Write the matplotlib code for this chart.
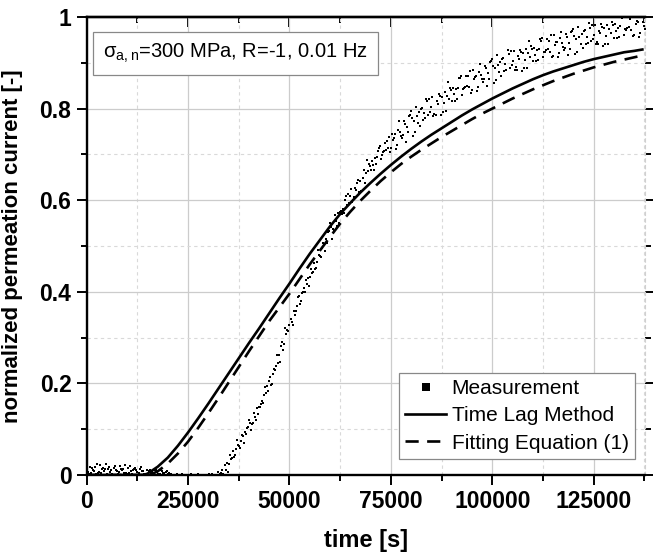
import numpy as np
import matplotlib
matplotlib.use("Agg")
import matplotlib.pyplot as plt
from matplotlib.ticker import MultipleLocator

plt.rcParams['font.family'] = ['Liberation Sans', 'DejaVu Sans']

meas_a = [0.012, 0.004, 0.018, 0.007, 0.015, 0.002, 0.011, 0.020, 0.006, 0.013,
          0.003, 0.009, 0.016, 0.004, 0.008, 0.001, 0.006, 0.010, 0.002, 0.005,
          0.003, 0.000, 0.001, 0.000, 0.000, 0.001, 0.000, 0.000, 0.000, 0.001,
          0.000, 0.002, 0.001, 0.004,
          0.021, 0.025, 0.052, 0.076, 0.075, 0.094, 0.120, 0.114, 0.146, 0.156,
          0.192, 0.205, 0.220, 0.262, 0.281, 0.322, 0.328, 0.358, 0.388, 0.398,
          0.426, 0.432, 0.462, 0.491, 0.495,
          0.515, 0.551, 0.532, 0.571, 0.570, 0.609, 0.610, 0.607, 0.645, 0.649,
          0.687, 0.666, 0.692, 0.714, 0.706, 0.730, 0.715,
          0.744, 0.774, 0.743, 0.760, 0.794, 0.750, 0.793, 0.776, 0.816, 0.804,
          0.786, 0.828, 0.813, 0.858, 0.816, 0.843, 0.866, 0.844, 0.871, 0.840,
          0.872, 0.898, 0.864, 0.877, 0.909, 0.862, 0.902, 0.882, 0.919, 0.905,
          0.884, 0.924, 0.906, 0.948, 0.903, 0.927, 0.948, 0.924, 0.948, 0.915,
          0.945, 0.968, 0.932, 0.943, 0.973, 0.924, 0.963, 0.941, 0.977, 0.961,
          0.940, 0.978, 0.959, 1.000, 0.954, 0.977, 0.997, 0.972, 0.995, 0.961,
          0.990, 1.013]
meas_b = [0.006, 0.016, 0.002, 0.022, 0.009, 0.014, 0.003, 0.012, 0.019, 0.005,
          0.015, 0.002, 0.010, 0.013, 0.003, 0.009, 0.002, 0.007, 0.011, 0.001,
          0.004, 0.000, 0.002, 0.000, 0.000, 0.000, 0.001, 0.000, 0.000, 0.000,
          0.003, 0.000, 0.006, 0.010,
          0.011, 0.043, 0.039, 0.066, 0.087, 0.089, 0.114, 0.136, 0.134, 0.162,
          0.180, 0.213, 0.232, 0.245, 0.291, 0.308, 0.340, 0.350, 0.391, 0.399,
          0.416, 0.450, 0.449, 0.481, 0.507,
          0.507, 0.541, 0.568, 0.551, 0.580, 0.589, 0.624, 0.627, 0.617, 0.665,
          0.663, 0.686, 0.678, 0.718, 0.708, 0.714, 0.745,
          0.711, 0.750, 0.773, 0.748, 0.779, 0.804, 0.763, 0.791, 0.786, 0.825,
          0.816, 0.786, 0.837, 0.822, 0.846, 0.822, 0.872, 0.847, 0.847, 0.885,
          0.839, 0.874, 0.894, 0.865, 0.894, 0.916, 0.872, 0.897, 0.889, 0.926,
          0.914, 0.882, 0.930, 0.912, 0.933, 0.906, 0.954, 0.927, 0.924, 0.960,
          0.912, 0.944, 0.962, 0.931, 0.958, 0.978, 0.933, 0.956, 0.947, 0.982,
          0.970, 0.936, 0.983, 0.964, 0.984, 0.956, 1.003, 0.975, 0.971, 1.006,
          0.957, 0.989]
meas_c = [0.003, 0.010, 0.025, 0.005, 0.013, 0.018, 0.001, 0.008, 0.014, 0.021,
          0.004, 0.011, 0.007, 0.017, 0.002, 0.012, 0.005, 0.003, 0.009, 0.006,
          0.000, 0.001, 0.000, 0.003, 0.000, 0.000, 0.000, 0.002, 0.000, 0.000,
          0.001, 0.000, 0.000, 0.002,
          0.026, 0.034, 0.043, 0.063, 0.085, 0.103, 0.098, 0.127, 0.148, 0.157,
          0.195, 0.197, 0.230, 0.261, 0.274, 0.317, 0.334, 0.359, 0.374, 0.408,
          0.431, 0.441, 0.453, 0.478, 0.505,
          0.531, 0.515, 0.554, 0.575, 0.572, 0.613, 0.596, 0.623, 0.643, 0.637,
          0.679, 0.676, 0.694, 0.690, 0.724, 0.738, 0.731,
          0.720, 0.741, 0.767, 0.784, 0.740, 0.783, 0.799, 0.779, 0.822, 0.783,
          0.810, 0.825, 0.795, 0.846, 0.831, 0.846, 0.830, 0.871, 0.883, 0.864,
          0.848, 0.865, 0.888, 0.901, 0.855, 0.895, 0.908, 0.885, 0.925, 0.884,
          0.908, 0.921, 0.888, 0.936, 0.918, 0.930, 0.912, 0.951, 0.960, 0.939,
          0.921, 0.935, 0.956, 0.967, 0.919, 0.957, 0.969, 0.944, 0.983, 0.940,
          0.964, 0.975, 0.941, 0.988, 0.969, 0.980, 0.961, 0.999, 1.007, 0.985,
          0.966, 0.980]
meas_d = [0.017, 0.008, 0.005, 0.013, 0.024, 0.007, 0.016, 0.002, 0.010, 0.004,
          0.019, 0.014, 0.001, 0.009, 0.012, 0.004, 0.011, 0.002, 0.004, 0.008,
          0.002, 0.000, 0.000, 0.001, 0.000, 0.002, 0.000, 0.000, 0.001, 0.000,
          0.000, 0.000, 0.003, 0.001,
          0.007, 0.037, 0.056, 0.060, 0.069, 0.105, 0.111, 0.121, 0.149, 0.174,
          0.183, 0.199, 0.238, 0.247, 0.287, 0.315, 0.328, 0.368, 0.379, 0.400,
          0.412, 0.444, 0.466, 0.475, 0.489,
          0.533, 0.537, 0.544, 0.577, 0.600, 0.593, 0.600, 0.637, 0.621, 0.659,
          0.675, 0.666, 0.708, 0.698, 0.710, 0.706, 0.735,
          0.753, 0.735, 0.728, 0.787, 0.773, 0.768, 0.802, 0.821, 0.792, 0.789,
          0.831, 0.792, 0.828, 0.840, 0.816, 0.867, 0.842, 0.850, 0.835, 0.870,
          0.881, 0.859, 0.849, 0.904, 0.888, 0.880, 0.911, 0.927, 0.895, 0.890,
          0.929, 0.888, 0.921, 0.930, 0.903, 0.951, 0.924, 0.930, 0.912, 0.945,
          0.954, 0.929, 0.917, 0.970, 0.952, 0.942, 0.972, 0.986, 0.953, 0.946,
          0.985, 0.942, 0.974, 0.982, 0.954, 1.001, 0.973, 0.978, 0.959, 0.991,
          0.999, 0.974]

# model curves
t_lag = [0, 5000, 10000, 14000, 15000, 17500, 20000, 22500, 25000, 27500, 30000,
         32500, 35000, 37500, 40000, 42500, 45000, 47500, 50000, 52500, 55000,
         57500, 60000, 62500, 65000, 67500, 70000, 72500, 75000, 77500, 80000,
         82500, 85000, 87500, 90000, 92500, 95000, 97500, 100000, 102500, 105000,
         107500, 110000, 112500, 115000, 117500, 120000, 122500, 125000, 127500,
         130000, 132500, 135000, 137000]
time_lag = [0, 0, 0, 0, 0.003, 0.018, 0.038, 0.064, 0.093, 0.124, 0.156,
            0.189, 0.222, 0.255, 0.288, 0.320, 0.353, 0.386, 0.418, 0.451, 0.483,
            0.513, 0.543, 0.570, 0.594, 0.617, 0.638, 0.658, 0.677, 0.695, 0.712,
            0.728, 0.743, 0.757, 0.771, 0.785, 0.798, 0.810, 0.822, 0.833, 0.844,
            0.854, 0.864, 0.873, 0.881, 0.888, 0.895, 0.902, 0.908, 0.913,
            0.918, 0.923, 0.926, 0.929]
t_fit = [0, 5000, 10000, 15500, 17500, 20000, 22500, 25000, 27500, 30000,
         32500, 35000, 37500, 40000, 42500, 45000, 47500, 50000, 52500, 55000,
         57500, 60000, 62500, 65000, 67500, 70000, 72500, 75000, 77500, 80000,
         82500, 85000, 87500, 90000, 92500, 95000, 97500, 100000, 102500, 105000,
         107500, 110000, 112500, 115000, 117500, 120000, 122500, 125000, 127500,
         130000, 132500, 135000, 137000]
fitting = [0, 0, 0, 0, 0.008, 0.025, 0.047, 0.073, 0.103, 0.135,
           0.168, 0.202, 0.236, 0.270, 0.303, 0.336, 0.366, 0.396, 0.428, 0.460,
           0.490, 0.520, 0.549, 0.575, 0.599, 0.621, 0.642, 0.661, 0.679, 0.695,
           0.710, 0.724, 0.738, 0.751, 0.764, 0.777, 0.789, 0.800, 0.811, 0.822,
           0.832, 0.842, 0.851, 0.860, 0.868, 0.876, 0.883, 0.890, 0.896,
           0.902, 0.907, 0.912, 0.916]

t_meas = np.concatenate([1000 * np.arange(len(meas_a)),
                         250 + 1000 * np.arange(len(meas_b)),
                         500 + 1000 * np.arange(len(meas_c)),
                         750 + 1000 * np.arange(len(meas_d))])
y_meas = np.concatenate([meas_a, meas_b, meas_c, meas_d])

fig = plt.figure(figsize=(6.53, 5.58), dpi=100)
ax = fig.add_axes([86.7 / 653, 83 / 558, 558.3 / 653, 458 / 558])

ax.plot(t_meas, y_meas, 's', color='black', markersize=1.6, markeredgewidth=0,
        label='Measurement', zorder=3)
ax.plot(t_lag, time_lag, '-', color='black', lw=1.9, label='Time Lag Method', zorder=4)
ax.plot(t_fit, fitting, '--', color='black', lw=1.9, dashes=(5, 3.2),
        label='Fitting Equation (1)', zorder=4)

ax.set_xlim(0, 137650)
ax.set_ylim(0, 1)
ax.xaxis.set_major_locator(MultipleLocator(25000))
ax.xaxis.set_minor_locator(MultipleLocator(12500))
ax.yaxis.set_major_locator(MultipleLocator(0.2))
ax.yaxis.set_minor_locator(MultipleLocator(0.1))
ax.set_yticks([0, 0.2, 0.4, 0.6, 0.8, 1.0])
ax.set_yticklabels(['0', '0.2', '0.4', '0.6', '0.8', '1'])

ax.grid(which='major', color='#cccccc', lw=0.9, ls='-')
ax.grid(which='minor', color='#d9d9d9', lw=0.8, ls=(0, (3, 3)))
ax.set_axisbelow(True)

for s in ['left', 'bottom', 'top']:
    ax.spines[s].set_linewidth(1.7)
ax.spines['right'].set_color('#d0d0d0')
ax.spines['right'].set_linestyle((0, (3, 3)))
ax.spines['right'].set_linewidth(0.8)

ax.tick_params(which='both', direction='out', width=1.4, labelsize=16.5,
               right=True, pad=4)
ax.tick_params(which='major', length=7)
ax.tick_params(which='minor', length=4)
for lab in ax.get_xticklabels() + ax.get_yticklabels():
    lab.set_fontweight('bold')

# inward ticks along the top edge
top = ax.secondary_xaxis('top')
top.xaxis.set_major_locator(MultipleLocator(25000))
top.xaxis.set_minor_locator(MultipleLocator(12500))
top.tick_params(which='both', direction='in', width=1.4, labeltop=False)
top.tick_params(which='major', length=7)
top.tick_params(which='minor', length=4)
top.spines['top'].set_linewidth(1.7)

ax.set_xlabel('time [s]', fontsize=17, fontweight='bold', labelpad=11)
ax.set_ylabel('normalized permeation current [-]', fontsize=16, fontweight='bold', labelpad=12)

ax.text(0.03, 0.921, 'σ$_{\\mathregular{a,n}}$=300 MPa, R=-1, 0.01 Hz',
        transform=ax.transAxes, fontsize=14.5, va='center', ha='left',
        bbox=dict(boxstyle='square,pad=0.5', fc='white', ec='#888888', lw=0.9))

leg = ax.legend(loc='lower right', bbox_to_anchor=(0.982, 0.035), fontsize=15,
                frameon=True, fancybox=False, edgecolor='#888888', framealpha=1,
                handlelength=2.0, handletextpad=0.25, borderpad=0.3, labelspacing=0.4,
                borderaxespad=0, markerscale=3.2)
leg.get_frame().set_linewidth(0.9)

fig.savefig('out.png', dpi=100)
